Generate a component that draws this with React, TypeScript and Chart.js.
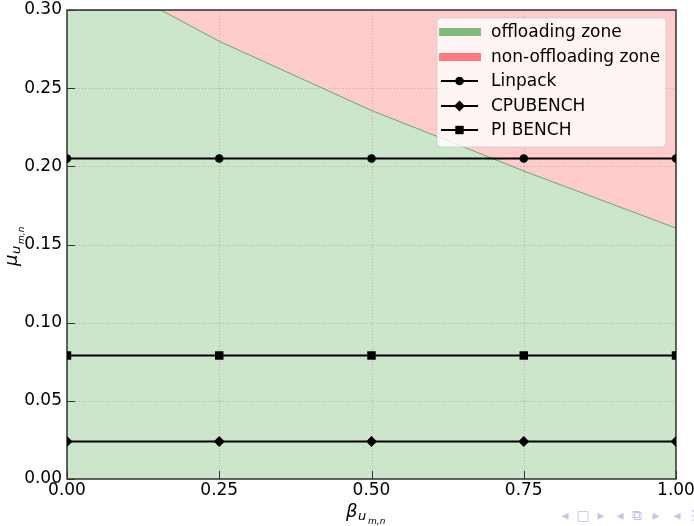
import React, { useEffect, useRef } from "react";
import { Chart, registerables } from "chart.js";

Chart.register(...registerables);

// ---- data ----
const betaPoints = [0, 0.25, 0.5, 0.75, 1.0];
const linpackMu = [0.205, 0.205, 0.205, 0.205, 0.205];
const cpubenchMu = [0.024, 0.024, 0.024, 0.024, 0.024];
const piBenchMu = [0.079, 0.079, 0.079, 0.079, 0.079];

const boundaryBeta = [0, 0.154, 0.25, 0.5, 0.612, 0.75, 1.0];
const boundaryMu = [0.3, 0.3, 0.28, 0.2357, 0.2185, 0.197, 0.1605];

const topBeta = [0, 1.0];
const topMu = [0.3, 0.3];

const xTicks = [0, 0.25, 0.5, 0.75, 1.0];
const yTicks = [0, 0.05, 0.1, 0.15, 0.2, 0.25, 0.3];

const legendLabels = ["offloading zone", "non-offloading zone", "Linpack", "CPUBENCH", "PI BENCH"];

const FONT = "DejaVu Sans";

const toXY = (xs: number[], ys: number[]) => xs.map((x, i) => ({ x, y: ys[i] }));

const decorPlugin = {
  id: "decor",
  beforeDatasetsDraw(chart: any) {
    const { ctx, chartArea: a, scales } = chart;
    ctx.save();
    ctx.strokeStyle = "rgba(176,176,176,1)";
    ctx.lineWidth = 1;
    ctx.setLineDash([1, 2]);
    xTicks.forEach((v) => {
      const x = Math.round(scales.x.getPixelForValue(v)) + 0.5;
      if (v <= 0 || v >= 1) return;
      ctx.beginPath();
      ctx.moveTo(x, a.top);
      ctx.lineTo(x, a.bottom);
      ctx.stroke();
    });
    yTicks.forEach((v) => {
      if (v <= 0 || v >= 0.3) return;
      const y = Math.round(scales.y.getPixelForValue(v)) + 0.5;
      ctx.beginPath();
      ctx.moveTo(a.left, y);
      ctx.lineTo(a.right, y);
      ctx.stroke();
    });
    ctx.restore();
  },
  afterDraw(chart: any) {
    const { ctx, chartArea: a, scales } = chart;
    ctx.save();
    // frame
    ctx.strokeStyle = "#000";
    ctx.lineWidth = 1.2;
    ctx.setLineDash([]);
    ctx.strokeRect(a.left, a.top, a.right - a.left, a.bottom - a.top);
    // inward ticks
    ctx.strokeStyle = "#333";
    ctx.lineWidth = 1;
    xTicks.forEach((v) => {
      const x = Math.round(scales.x.getPixelForValue(v)) + 0.5;
      ctx.beginPath();
      ctx.moveTo(x, a.bottom);
      ctx.lineTo(x, a.bottom - 8);
      ctx.stroke();
    });
    yTicks.forEach((v) => {
      const y = Math.round(scales.y.getPixelForValue(v)) + 0.5;
      ctx.beginPath();
      ctx.moveTo(a.left, y);
      ctx.lineTo(a.left + 8, y);
      ctx.stroke();
    });

    // legend
    const bx = 437, by = 18, bw = 229, bh = 129, r = 4;
    ctx.beginPath();
    ctx.moveTo(bx + r, by);
    ctx.lineTo(bx + bw - r, by);
    ctx.quadraticCurveTo(bx + bw, by, bx + bw, by + r);
    ctx.lineTo(bx + bw, by + bh - r);
    ctx.quadraticCurveTo(bx + bw, by + bh, bx + bw - r, by + bh);
    ctx.lineTo(bx + r, by + bh);
    ctx.quadraticCurveTo(bx, by + bh, bx, by + bh - r);
    ctx.lineTo(bx, by + r);
    ctx.quadraticCurveTo(bx, by, bx + r, by);
    ctx.closePath();
    ctx.fillStyle = "rgba(255,255,255,0.8)";
    ctx.fill();
    ctx.strokeStyle = "rgba(204,204,204,0.8)";
    ctx.lineWidth = 1;
    ctx.stroke();

    const rows = [32, 57, 81, 106, 130];
    ctx.font = `17px ${FONT}`;
    ctx.textBaseline = "middle";
    ctx.textAlign = "left";
    rows.forEach((cy, i) => {
      if (i === 0 || i === 1) {
        ctx.fillStyle = i === 0 ? "rgba(0,128,0,0.5)" : "rgba(255,0,0,0.5)";
        ctx.fillRect(439, cy - 4, 42, 8);
      } else {
        ctx.strokeStyle = "#000";
        ctx.lineWidth = 2;
        ctx.beginPath();
        ctx.moveTo(441, cy);
        ctx.lineTo(478, cy);
        ctx.stroke();
        ctx.fillStyle = "#000";
        const mx = 459.5;
        ctx.beginPath();
        if (i === 2) {
          ctx.arc(mx, cy, 4.3, 0, Math.PI * 2);
        } else if (i === 3) {
          ctx.moveTo(mx, cy - 5.5);
          ctx.lineTo(mx + 5.5, cy);
          ctx.lineTo(mx, cy + 5.5);
          ctx.lineTo(mx - 5.5, cy);
          ctx.closePath();
        } else {
          ctx.rect(mx - 4.2, cy - 4.2, 8.4, 8.4);
        }
        ctx.fill();
      }
      ctx.fillStyle = "#000";
      ctx.fillText(legendLabels[i], 491, cy + 1);
    });

    // axis titles
    ctx.fillStyle = "#000";
    ctx.textBaseline = "alphabetic";
    ctx.textAlign = "left";
    // x title
    ctx.font = `italic 18px ${FONT}`;
    ctx.fillText("β", 346, 517);
    ctx.font = `italic 13px ${FONT}`;
    ctx.fillText("u", 358, 520);
    ctx.font = `italic 9px ${FONT}`;
    ctx.fillText("m,n", 368, 523.5);
    // y title
    ctx.save();
    ctx.translate(17, 266);
    ctx.rotate(-Math.PI / 2);
    ctx.font = `italic 18px ${FONT}`;
    ctx.fillText("μ", 0, 0);
    ctx.font = `italic 13px ${FONT}`;
    ctx.fillText("u", 12, 3);
    ctx.font = `italic 9px ${FONT}`;
    ctx.fillText("m,n", 22, 6.5);
    ctx.restore();

    // beamer navigation symbols
    ctx.fillStyle = "rgb(196,196,232)";
    ctx.font = `14px ${FONT}`;
    ctx.textBaseline = "middle";
    ctx.textAlign = "center";
    const nav: [string, number][] = [
      ["◂", 565], ["□", 583], ["▸", 601], ["◂", 620], ["⧉", 637], ["▸", 656], ["◂", 677], ["⋮", 693],
    ];
    nav.forEach(([s, x]) => ctx.fillText(s, x, 516));
    ctx.restore();
  },
};

export default function App() {
  const ref = useRef<HTMLCanvasElement | null>(null);

  useEffect(() => {
    if (!ref.current) return;
    Chart.defaults.font.family = FONT;
    const lineDs = (label: string, data: number[], style: string, radius: number) => ({
      label,
      data: toXY(betaPoints, data),
      borderColor: "#000",
      backgroundColor: "#000",
      borderWidth: 2,
      pointStyle: style,
      pointRadius: radius,
      pointBorderWidth: 0,
      pointBackgroundColor: "#000",
      fill: false,
      tension: 0,
    });
    const chart = new Chart(ref.current, {
      type: "line",
      data: {
        datasets: [
          lineDs("Linpack", linpackMu, "circle", 4.3),
          lineDs("CPUBENCH", cpubenchMu, "rectRot", 5.5),
          lineDs("PI BENCH", piBenchMu, "rect", 6),
          {
            label: "offloading zone",
            data: toXY(boundaryBeta, boundaryMu),
            borderColor: "rgba(0,128,0,0.55)",
            borderWidth: 1,
            backgroundColor: "rgba(0,128,0,0.2)",
            pointRadius: 0,
            fill: "origin",
            tension: 0,
          } as any,
          {
            label: "non-offloading zone",
            data: toXY(topBeta, topMu),
            borderWidth: 0,
            borderColor: "rgba(0,0,0,0)",
            backgroundColor: "rgba(255,0,0,0.2)",
            pointRadius: 0,
            fill: { target: 3, above: "rgba(255,0,0,0.2)", below: "rgba(255,0,0,0.2)" },
            tension: 0,
          } as any,
        ],
      },
      options: {
        responsive: false,
        animation: false,
        devicePixelRatio: 1,
        layout: { padding: { top: 10, right: 18, left: 0, bottom: 0 } },
        plugins: {
          legend: { display: false },
          tooltip: { enabled: false },
          filler: { drawTime: "beforeDatasetsDraw" } as any,
        },
        scales: {
          x: {
            type: "linear",
            min: 0,
            max: 1,
            afterBuildTicks: (s: any) => {
              s.ticks = xTicks.map((v) => ({ value: v }));
            },
            afterFit: (s: any) => {
              s.height = 47;
              s.paddingLeft = 0;
              s.paddingRight = 0;
            },
            ticks: {
              autoSkip: false,
              maxRotation: 0,
              color: "#000",
              padding: 1,
              font: { size: 17, family: FONT },
              callback: (v: any) => Number(v).toFixed(2),
            },
            grid: { display: false, drawTicks: false },
            border: { display: false },
          },
          y: {
            type: "linear",
            min: 0,
            max: 0.3,
            afterBuildTicks: (s: any) => {
              s.ticks = yTicks.map((v) => ({ value: v }));
            },
            afterFit: (s: any) => {
              s.width = 67;
              s.paddingTop = 0;
              s.paddingBottom = 0;
            },
            ticks: {
              autoSkip: false,
              color: "#000",
              padding: 5,
              font: { size: 17, family: FONT },
              callback: (v: any) => Number(v).toFixed(2),
            },
            grid: { display: false, drawTicks: false },
            border: { display: false },
          },
        },
      },
      plugins: [decorPlugin as any],
    });
    return () => chart.destroy();
  }, []);

  return (
    <div style={{ position: "fixed", left: 0, top: 0, width: 694, height: 526, background: "#fff" }}>
      <canvas ref={ref} width={694} height={526} style={{ display: "block" }} />
    </div>
  );
}
